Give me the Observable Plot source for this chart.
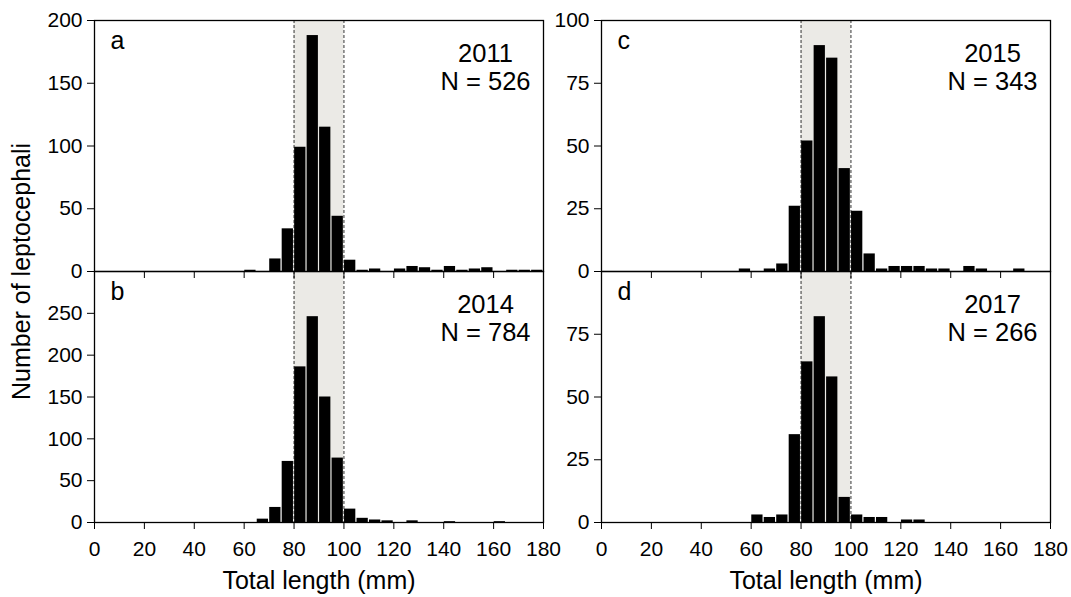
<!DOCTYPE html>
<html><head><meta charset="utf-8">
<script src="https://cdn.jsdelivr.net/npm/d3@7"></script>
<script src="https://cdn.jsdelivr.net/npm/@observablehq/plot@0.6"></script>
<style>
body{margin:0;background:#fff}
#chart{position:relative;width:1071px;height:597px;overflow:hidden;background:#fff}
#chart svg{position:absolute;overflow:visible}
</style></head><body><div id="chart"></div>
<script>
// Bin starts (5 mm bins), total length in mm
const binStart = [55,60,65,70,75,80,85,90,95,100,105,110,115,120,125,130,135,140,145,150,155,160,165,170,175];
const binWidth = 5;
// Counts per bin for each year
const counts2011 = [0,1,0,10,34,99,188,115,44,9,1,2,0,2,4,3,1,4,1,2,3,0,1,1,1];
const counts2014 = [0,0,4,18,73,186,246,150,77,16,5,3,2,0,2,0,0,1,0,0,0,1,0,0,0];
const counts2015 = [1,0,1,3,26,52,90,85,41,24,7,1,2,2,2,1,1,0,2,1,0,0,1,0,0];
const counts2017 = [0,3,2,3,35,64,82,58,10,3,2,2,0,1,1,0,0,0,0,0,0,0,0,0,0];
const panelLetters = ["a","b","c","d"];
const years = [2011, 2014, 2015, 2017];
const sampleN = [526, 784, 343, 266];
const yMaxes = [200, 300, 100, 100];
const yTicksA = [0,50,100,150,200];
const yTicksB = [0,50,100,150,200,250];
const yTicksC = [0,25,50,75,100];
const yTicksD = [0,25,50,75];
const xTicks = [0,20,40,60,80,100,120,140,160,180];
const xDomain = [0,180];
const bandRange = [80,100];
const xTitle = "Total length (mm)";
const yTitle = "Number of leptocephali";

const FONT = '"Liberation Sans", Arial, Helvetica, sans-serif';
const chart = document.getElementById("chart");

const panels = [
  {i:0, counts:counts2011, yTicks:yTicksA, left:0,   top:0,   bottom:false},
  {i:1, counts:counts2014, yTicks:yTicksB, left:0,   top:271, bottom:true},
  {i:2, counts:counts2015, yTicks:yTicksC, left:507, top:0,   bottom:false},
  {i:3, counts:counts2017, yTicks:yTicksD, left:507, top:271, bottom:true}
];

function makePanel(p) {
  const data = binStart.map((s, k) => ({x1: s, x2: s + binWidth, count: p.counts[k]})).filter(d => d.count > 0);
  const band = [{x1: bandRange[0], x2: bandRange[1], y1: 0, y2: yMaxes[p.i]}];
  const marks = [
    Plot.rect(band, {x1: "x1", x2: "x2", y1: "y1", y2: "y2", fill: "#ebeae6"}),
    Plot.ruleX(bandRange, {stroke: "#333", strokeWidth: 1, strokeDasharray: "3,2"}),
    Plot.rectY(data, {x1: "x1", x2: "x2", y: "count", fill: "#000", insetLeft: 0.6, insetRight: 0.6}),
    Plot.frame({stroke: "#000", strokeWidth: 1.3}),
    Plot.text([panelLetters[p.i]], {text: d => d, frameAnchor: "top-left", dx: 16, dy: 11, lineAnchor: "top", textAnchor: "start", fontSize: 25, fill: "#000"}),
    Plot.text([`${years[p.i]}\nN = ${sampleN[p.i]}`], {text: d => d, frameAnchor: "top-right", dx: -58, dy: 22, lineAnchor: "top", textAnchor: "middle", lineHeight: 1.1, fontSize: 25.5, fill: "#000"})
  ];
  if (p.bottom) {
    marks.push(Plot.text([xTitle], {text: d => d, frameAnchor: "bottom", dy: 49, lineAnchor: "top", textAnchor: "middle", fontSize: 25, fill: "#000"}));
  }
  if (p.i === 0) {
    marks.push(Plot.text([yTitle], {text: d => d, frameAnchor: "bottom-left", dx: -73, rotate: -90, textAnchor: "middle", lineAnchor: "middle", fontSize: 25, fill: "#000"}));
  }
  const svg = Plot.plot({
    width: 560,
    height: p.bottom ? 326 : 300,
    marginLeft: 94,
    marginRight: 17,
    marginTop: p.bottom ? 0 : 20,
    marginBottom: p.bottom ? 75 : 29,
    style: {background: "none", overflow: "visible", fontFamily: FONT, fontSize: "21px", color: "#000"},
    x: {domain: xDomain, ticks: xTicks, tickSize: 7, tickPadding: 12, label: null,
        tickFormat: p.bottom ? (d => String(d)) : (() => "")},
    y: {domain: [0, yMaxes[p.i]], ticks: p.yTicks, tickSize: 7, tickPadding: 5, label: null},
    marks
  });
  svg.style.position = "absolute";
  svg.style.left = p.left + "px";
  svg.style.top = p.top + "px";
  svg.style.maxWidth = "none";
  return svg;
}

// bottom panels first so top panels' ticks draw over them
[panels[1], panels[3], panels[0], panels[2]].forEach(p => chart.appendChild(makePanel(p)));
</script></body></html>
